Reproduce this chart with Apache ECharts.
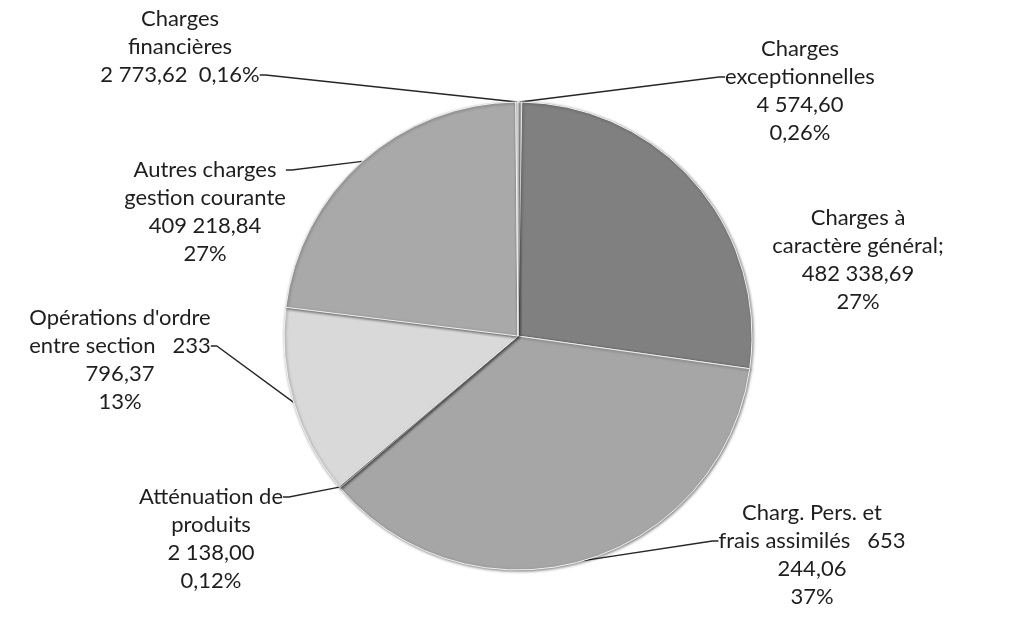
<!DOCTYPE html>
<html><head><meta charset="utf-8">
<script src="https://cdn.jsdelivr.net/npm/echarts@6/dist/echarts.min.js"></script>
<style>html,body{margin:0;padding:0;background:#fff}#c{width:1017px;height:626px}</style>
</head><body><div id="c"></div>
<script>
const categories = ['Charges exceptionnelles','Charges à caractère général','Charg. Pers. et frais assimilés','Atténuation de produits',"Opérations d'ordre entre section",'Autres charges gestion courante','Charges financières'];
const values = [4574.60, 482338.69, 653244.06, 2138.00, 233796.37, 409218.84, 2773.62];
const pctLabels = ['0,26%','27%','37%','0,12%','13%','27%','0,16%'];
const labelTexts = [
  'Charges\nexceptionnelles\n4 574,60\n0,26%',
  'Charges à\ncaractère général;\n482 338,69\n27%',
  'Charg. Pers. et\nfrais assimilés   653\n244,06\n37%',
  'Atténuation de\nproduits\n2 138,00\n0,12%',
  "Opérations d'ordre\nentre section   233\n796,37\n13%",
  'Autres charges\ngestion courante\n409 218,84\n27%',
  'Charges\nfinancières\n2 773,62  0,16%'
];
const colors = ['#e4e4e4','#808080','#a6a6a6','#c8c8c8','#d9d9d9','#a9a9a9','#d0d0d0'];

const LH = 28;
// which text line the leader line attaches to (0-based), -1 = none
const attachLine = [1, -1, 1, 0, 1, 0, 2];
// label block centres
const labelCentre = [[800,91],[858,260],[812,555],[211,539],[120,360],[205,212],[180,47]];

function blanks(i){
  const n = labelTexts[i].split('\n').length;
  const k = attachLine[i];
  if (k < 0) return [0,0];
  const d = n - 1 - 2*k;
  return d >= 0 ? [d,0] : [0,-d];
}
function paddedText(i){
  const b = blanks(i);
  return '\n'.repeat(b[0]) + labelTexts[i] + '\n'.repeat(b[1]);
}

const chart = echarts.init(document.getElementById('c'));
chart.setOption({
  backgroundColor:'#fff',
  animation:false,
  series:[{
    type:'pie',
    center:[518,336],
    radius:234,
    startAngle:90,
    clockwise:true,
    avoidLabelOverlap:false,
    data: categories.map((n,i)=>({
      name:n,value:values[i],
      itemStyle:{color:colors[i]},
      labelLine:{show:attachLine[i]>=0}
    })),
    itemStyle:{borderColor:'#f2f2f2',borderWidth:1,shadowColor:'rgba(0,0,0,0.45)',shadowBlur:3,shadowOffsetX:1,shadowOffsetY:1},
    label:{
      show:true,
      formatter:p=>paddedText(p.dataIndex),
      fontFamily:'Lato',
      fontSize:22,
      lineHeight:LH,
      color:'#1e1e1e',
      align:'center'
    },
    labelLine:{show:true,lineStyle:{color:'#262626',width:1.3},length:15,length2:6,minTurnAngle:0},
    labelLayout:function(p){
      const i=p.dataIndex;
      const b=blanks(i);
      return {x:labelCentre[i][0],y:labelCentre[i][1]-b[0]*LH/2+b[1]*LH/2,align:'center',verticalAlign:'middle'};
    }
  }]
});
</script></body></html>
